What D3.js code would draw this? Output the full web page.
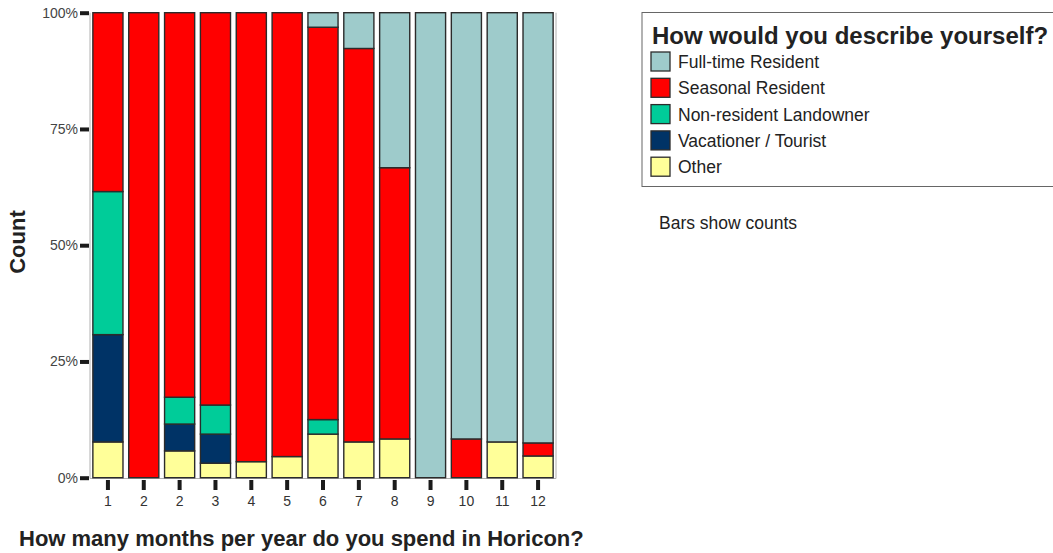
<!DOCTYPE html>
<html>
<head>
<meta charset="utf-8">
<script src="https://cdn.jsdelivr.net/npm/d3@7"></script>
<style>
  html, body { margin: 0; padding: 0; background: #fff; }
  svg { display: block; font-family: "Liberation Sans", Arial, sans-serif; }
</style>
</head>
<body>
<svg id="chart" width="1053" height="553"></svg>
<script>
// Category labels (bars in order; note the repeated "2" as in the source)
const categories = ["1", "2", "2", "3", "4", "5", "6", "7", "8", "9", "10", "11", "12"];
// Series names (bottom to top in the stack) and colours
const seriesNames = ["Other", "Vacationer / Tourist", "Non-resident Landowner", "Seasonal Resident", "Full-time Resident"];
const legendOrder = ["Full-time Resident", "Seasonal Resident", "Non-resident Landowner", "Vacationer / Tourist", "Other"];
const seriesColors = ["#ffff99", "#003366", "#00cc99", "#ff0000", "#9ecbcb"];
// Counts per bar
const otherCounts      = [1, 0, 3, 1, 1, 1, 3, 1, 1, 0, 0, 1, 5];
const vacationerCounts = [3, 0, 3, 2, 0, 0, 0, 0, 0, 0, 0, 0, 0];
const nonResCounts     = [4, 0, 3, 2, 0, 0, 1, 0, 0, 0, 0, 0, 0];
const seasonalCounts   = [5, 3, 43, 27, 28, 21, 27, 11, 7, 0, 1, 0, 3];
const fullTimeCounts   = [0, 0, 0, 0, 0, 0, 1, 1, 4, 5, 11, 12, 99];
const yTickValues = [0, 0.25, 0.5, 0.75, 1];
const yTickLabels = ["0%", "25%", "50%", "75%", "100%"];

const seriesData = [otherCounts, vacationerCounts, nonResCounts, seasonalCounts, fullTimeCounts];
const rows = categories.map((c, i) => {
  const r = { idx: i, label: c };
  seriesNames.forEach((s, k) => { r[s] = seriesData[k][i]; });
  return r;
});

const svg = d3.select("#chart");
const x = d3.scaleBand().domain(d3.range(categories.length)).range([90, 556]).paddingInner(0.16).paddingOuter(0.08);
const y = d3.scaleLinear().domain([0, 1]).range([477.7, 12.7]);
const color = d3.scaleOrdinal().domain(seriesNames).range(seriesColors);

const stacked = d3.stack().keys(seriesNames).offset(d3.stackOffsetExpand)(rows);

// plot frame (light grey)
svg.append("path")
  .attr("d", `M90,12.7 V478.5 H556 V12.7`)
  .attr("fill", "none").attr("stroke", "#b0b0b0").attr("stroke-width", 1);

// bars
svg.append("g").selectAll("g").data(stacked).join("g")
  .attr("fill", d => color(d.key))
  .selectAll("rect").data(d => d.filter(p => p[1] - p[0] > 0)).join("rect")
  .attr("x", d => x(d.data.idx))
  .attr("width", x.bandwidth())
  .attr("y", d => y(d[1]))
  .attr("height", d => y(d[0]) - y(d[1]))
  .attr("stroke", "#2b2b2b").attr("stroke-width", 1.4);

// y axis
const yAxis = d3.axisLeft(y).tickValues(yTickValues).tickFormat((d, i) => yTickLabels[i]).tickSize(9).tickPadding(2);
const gy = svg.append("g").attr("transform", "translate(89,0)").call(yAxis);
gy.select(".domain").remove();
gy.selectAll(".tick line").attr("stroke", "#1a1a1a").attr("stroke-width", 4);
gy.selectAll(".tick text").attr("font-size", 14).attr("fill", "#444").attr("font-family", "Liberation Sans, Arial, sans-serif");

// x axis
const xAxis = d3.axisBottom(x).tickFormat(i => categories[i]).tickSize(10).tickPadding(6);
const gx = svg.append("g").attr("transform", "translate(0,480)").call(xAxis);
gx.select(".domain").remove();
gx.selectAll(".tick line").attr("stroke", "#1a1a1a").attr("stroke-width", 4);
gx.selectAll(".tick text").attr("font-size", 14).attr("fill", "#333").attr("font-family", "Liberation Sans, Arial, sans-serif");

// axis titles
svg.append("text").attr("transform", "translate(25,242) rotate(-90)")
  .attr("text-anchor", "middle").attr("font-size", 22).attr("font-weight", "bold").attr("fill", "#222")
  .text("Count");
svg.append("text").attr("x", 19).attr("y", 546)
  .attr("font-size", 22).attr("font-weight", "bold").attr("fill", "#222")
  .text("How many months per year do you spend in Horicon?");

// legend
const lg = svg.append("g");
lg.append("rect").attr("x", 642).attr("y", 12.5).attr("width", 430).attr("height", 174)
  .attr("fill", "#fff").attr("stroke", "#666").attr("stroke-width", 1);
lg.append("text").attr("x", 652).attr("y", 44).attr("font-size", 24).attr("font-weight", "bold").attr("fill", "#222")
  .text("How would you describe yourself?");
const items = lg.selectAll("g.item").data(legendOrder).join("g").attr("class", "item")
  .attr("transform", (d, i) => `translate(651,${52 + i * 26.3})`);
items.append("rect").attr("width", 19).attr("height", 19)
  .attr("fill", d => color(d)).attr("stroke", "#2b2b2b").attr("stroke-width", 1.3);
items.append("text").attr("x", 27).attr("y", 10).attr("dy", "0.35em")
  .attr("font-size", 17.5).attr("fill", "#222").text(d => d);

svg.append("text").attr("x", 659).attr("y", 223).attr("dy", "0.35em")
  .attr("font-size", 17.5).attr("fill", "#222").text("Bars show counts");
</script>
</body>
</html>
